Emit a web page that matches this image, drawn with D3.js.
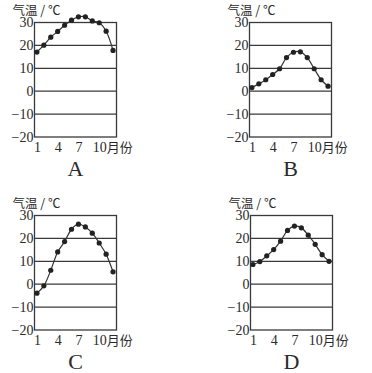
<!DOCTYPE html>
<html>
<head>
<meta charset="utf-8">
<script src="https://cdn.jsdelivr.net/npm/d3@7"></script>
<style>
  body { margin: 0; background: #fff; }
  svg { display: block; }
</style>
</head>
<body>
<div id="chart"></div>
<script>
// months and monthly mean temperature (°C) for the four places
const months = [1, 2, 3, 4, 5, 6, 7, 8, 9, 10, 11, 12];
const tempA = [17.1, 20.1, 23.6, 26.1, 28.8, 31.0, 32.5, 32.5, 30.7, 29.9, 26.2, 17.8];
const tempB = [1.6, 3.2, 5.0, 7.3, 9.8, 14.7, 17.0, 17.2, 14.7, 9.8, 5.0, 2.2];
const tempC = [-3.9, -0.7, 6.1, 14.1, 18.6, 24.0, 26.2, 25.0, 22.3, 18.0, 13.1, 5.4];
const tempD = [8.6, 9.9, 12.4, 15.1, 18.8, 23.5, 25.4, 24.6, 21.4, 17.4, 12.9, 10.0];
const yTicks = [30, 20, 10, 0, -10, -20];
const xTicks = [1, 4, 7, 10];
const panelNames = ["A", "B", "C", "D"];

const W = 372, H = 373;
const plotW = 82, plotH = 114.5;
// top-left corner of each plot frame
const origins = [[34.5, 22.5], [249.5, 22.5], [34.5, 215.5], [250.5, 215.5]];
const series = [tempA, tempB, tempC, tempD];

const svg = d3.select("#chart").append("svg")
    .attr("width", W)
    .attr("height", H);

const x = d3.scaleLinear().domain([0.65, 12.5]).range([0, plotW]);
const y = d3.scaleLinear().domain([-20, 30]).range([plotH, 0]);

const serif = "'Liberation Serif', 'Times New Roman', serif";
const cjk = "'Noto Sans CJK SC', sans-serif";
const ink = "#2a2a2a";

series.forEach(function(temps, i) {
    let g = svg.append("g")
        .attr("transform", "translate(" + origins[i][0] + "," + origins[i][1] + ")");

    // horizontal grid lines
    g.selectAll(".grid")
        .data(yTicks.filter(function(t) { return t != 30 && t != -20; }))
        .enter().append("line")
        .attr("x1", 0).attr("x2", plotW)
        .attr("y1", function(d) { return y(d); })
        .attr("y2", function(d) { return y(d); })
        .attr("stroke", "#3a3a3a")
        .attr("stroke-width", 1.2);

    // frame
    g.append("rect")
        .attr("width", plotW).attr("height", plotH)
        .attr("fill", "none")
        .attr("stroke", "#3a3a3a")
        .attr("stroke-width", 1.3);

    // y axis labels
    let yAxis = g.append("g")
        .call(d3.axisLeft(y).tickValues(yTicks).tickSize(0).tickPadding(1)
            .tickFormat(function(d) { return d < 0 ? "\u2212" + Math.abs(d) : d; }));
    yAxis.select(".domain").remove();
    yAxis.attr("font-family", null);
    yAxis.selectAll("text")
        .style("font-family", serif)
        .attr("font-size", 14)
        .attr("fill", ink);

    // x axis labels
    let xAxis = g.append("g")
        .attr("transform", "translate(0," + plotH + ")")
        .call(d3.axisBottom(x).tickValues(xTicks).tickSize(0).tickPadding(5)
            .tickFormat(function(d) { return d; }));
    xAxis.select(".domain").remove();
    xAxis.attr("font-family", null);
    xAxis.selectAll("text")
        .style("font-family", serif)
        .attr("font-size", 14)
        .attr("fill", ink);
    xAxis.selectAll(".tick").filter(function(d) { return d == 10; })
        .select("text")
        .attr("text-anchor", "start")
        .attr("dx", -7)
        .text("10")
        .append("tspan")
        .style("font-family", cjk)
        .attr("font-size", 13)
        .text("月份");

    // title
    g.append("text")
        .attr("x", -22)
        .attr("y", -8)
        .style("font-family", cjk)
        .attr("font-size", 12.5)
        .attr("fill", ink)
        .text("气温 / ℃");

    // temperature curve
    let line = d3.line()
        .x(function(d, k) { return x(months[k]); })
        .y(function(d) { return y(d); })
        .curve(d3.curveCatmullRom.alpha(0.5));
    g.append("path")
        .datum(temps)
        .attr("d", line)
        .attr("fill", "none")
        .attr("stroke", "#333")
        .attr("stroke-width", 1.2);

    g.selectAll(".dot")
        .data(temps)
        .enter().append("circle")
        .attr("cx", function(d, k) { return x(months[k]); })
        .attr("cy", function(d) { return y(d); })
        .attr("r", 2.6)
        .attr("fill", "#222");

    // panel letter
    g.append("text")
        .attr("x", plotW / 2)
        .attr("y", plotH + 39)
        .attr("text-anchor", "middle")
        .style("font-family", serif)
        .attr("font-size", 22)
        .attr("fill", ink)
        .text(panelNames[i]);
});
</script>
</body>
</html>
